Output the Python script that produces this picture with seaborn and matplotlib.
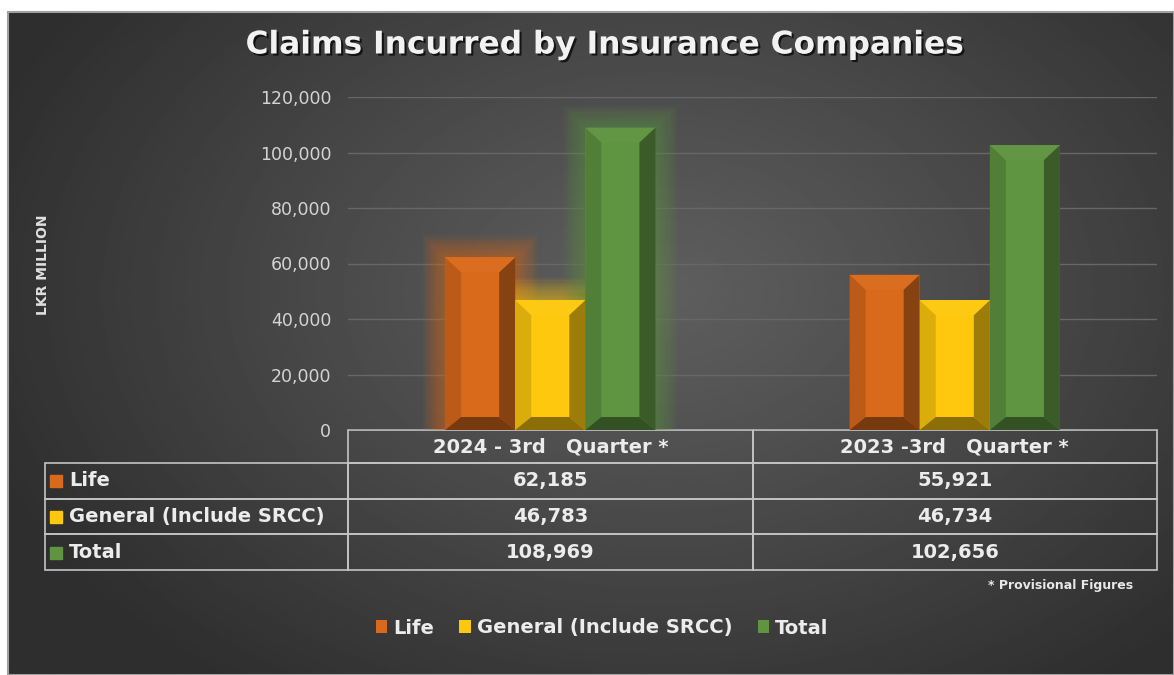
import matplotlib.pyplot as plt
import matplotlib.colors as mcolors
import matplotlib.patheffects as pe
import numpy as np
import pandas as pd
import seaborn as sns
from matplotlib.patches import Polygon, Rectangle
from matplotlib.table import Table

# data (LKR million)
periods = ['2024 - 3rd   Quarter *', '2023 -3rd   Quarter *']
series = ['Life', 'General (Include SRCC)', 'Total']
life = [62185, 55921]
general = [46783, 46734]
total = [108969, 102656]
y_ticks = [0, 20000, 40000, 60000, 80000, 100000, 120000]

COLORS = ['#d96a1b', '#fdc80e', '#5f9441']
TXT = '#ececec'

W, H = 1174, 675


def shade(color, f):
    rgb = np.array(mcolors.to_rgb(color))
    if f > 1:
        rgb = rgb + (1 - rgb) * (f - 1)
    else:
        rgb = rgb * f
    return tuple(np.clip(rgb, 0, 1))


def px_axes(x0, y0, x1, y1):
    # pixel box (top-left origin) -> figure fraction rect
    return [x0 / W, 1 - y1 / H, (x1 - x0) / W, (y1 - y0) / H]


df = pd.DataFrame({
    'period': periods * 3,
    'series': np.repeat(series, 2),
    'value': life + general + total,
})

fig = plt.figure(figsize=(W / 100, H / 100), dpi=100, facecolor='white')

# dark radial background, lighter behind the plot
bg = fig.add_axes(px_axes(8, 12, W, H))
yy, xx = np.mgrid[0:1:300j, 0:1:500j]
d = np.sqrt(((xx - 0.56) / 0.62) ** 2 + ((yy - 0.42) / 0.75) ** 2)
level = 0.37 - 0.19 * np.clip(d, 0, 1) ** 1.1
bg.imshow(level, cmap='gray', vmin=0, vmax=1, aspect='auto', extent=(0, 1, 1, 0))
bg.set_axis_off()
fig.add_artist(Rectangle((8 / W, 0), 1 - 8 / W, 1 - 12 / H, transform=fig.transFigure,
                         fill=False, edgecolor='#a0a0a0', lw=1.5))

ax = fig.add_axes(px_axes(348, 97, 1157, 430))
ax.set_facecolor('none')
sns.barplot(data=df, x='period', y='value', hue='series', hue_order=series,
            palette=COLORS, width=0.52, saturation=1, errorbar=None, ax=ax, zorder=3)

ax.set_ylim(0, 120000)
ax.set_yticks(y_ticks)
ax.yaxis.set_major_formatter('{x:,.0f}')
ax.yaxis.grid(True, color='#676767', lw=1)
ax.set_axisbelow(True)
for s in ax.spines.values():
    s.set_visible(False)
ax.tick_params(axis='y', length=0, pad=12, labelsize=12.5, labelcolor='#d4d4d4')
ax.tick_params(axis='x', length=0, labelbottom=False)
ax.set_xlabel('')
ax.set_ylabel('LKR MILLION', fontsize=10, fontweight='bold', color='#e0e0e0')
ax.yaxis.set_label_coords((50 - 348) / 809, 0.495)

# bevel and glow on the seaborn bars
xlim = ax.get_xlim()
xpp = (xlim[1] - xlim[0]) / 809
ypp = 120000 / 333
for k, cont in enumerate(ax.containers):
    base = COLORS[k]
    for j, bar in enumerate(cont):
        x0, y0 = bar.get_x(), bar.get_y()
        x1, y1 = x0 + bar.get_width(), y0 + bar.get_height()
        if j == 0:
            for g in range(1, 11):
                ax.add_patch(Rectangle((x0 - g * 2.2 * xpp, y0), (x1 - x0) + g * 4.4 * xpp,
                                       (y1 - y0) + g * 2.2 * ypp, color=base, alpha=0.07,
                                       lw=0, zorder=2))
        dx, dy, db = 16 * xpp, 15 * ypp, 13 * ypp
        pieces = [
            ([(x0, y1), (x1, y1), (x1 - dx, y1 - dy), (x0 + dx, y1 - dy)], 1.02),
            ([(x0, y0), (x0 + dx, y0 + db), (x0 + dx, y1 - dy), (x0, y1)], 0.86),
            ([(x1, y0), (x1, y1), (x1 - dx, y1 - dy), (x1 - dx, y0 + db)], 0.62),
            ([(x0, y0), (x1, y0), (x1 - dx, y0 + db), (x0 + dx, y0 + db)], 0.55),
        ]
        for pts, f in pieces:
            ax.add_patch(Polygon(pts, closed=True, facecolor=shade(base, f), lw=0, zorder=4))

# data table under the bars
tbl = Table(ax, bbox=[-303 / 809, -140 / 333, 1 + 303 / 809, 140 / 333])
edge = '#c4c4c4'
hh, rh = 33 / 333, 35.5 / 333
for c, p in enumerate(periods):
    tbl.add_cell(0, c + 1, width=0.5, height=hh, text=p, loc='center',
                 facecolor='none', edgecolor=edge)
for r, (name, vals) in enumerate(zip(series, [life, general, total])):
    cell = tbl.add_cell(r + 1, 0, width=303 / 809, height=rh, text=name, loc='left',
                        facecolor='none', edgecolor=edge)
    cell.PAD = 0.08
    for c, v in enumerate(vals):
        tbl.add_cell(r + 1, c + 1, width=0.5, height=rh, text=f'{v:,}', loc='center',
                     facecolor='none', edgecolor=edge)
tbl.auto_set_font_size(False)
tbl.set_fontsize(14)
for cell in tbl.get_celld().values():
    cell.get_text().set(color=TXT, fontweight='bold')
    cell.set_linewidth(1.2)
ax.add_table(tbl)

# colour keys inside the table row labels
for k, yc in enumerate([481, 517, 553]):
    fig.add_artist(Rectangle((50 / W, 1 - (yc + 6) / H), 12 / W, 12 / H,
                             transform=fig.transFigure, color=COLORS[k]))

sns.move_legend(ax, 'center', bbox_to_anchor=((602 - 348) / 809, (430 - 628) / 333),
                ncol=3, frameon=False, title=None, fontsize=14, handlelength=0.6,
                handleheight=0.6, handletextpad=0.3, columnspacing=1.3)
for t in ax.get_legend().get_texts():
    t.set(color=TXT, fontweight='bold')

fig.text(1133 / W, 1 - 586 / H, '* Provisional Figures', ha='right', va='center',
         fontsize=9, color='#e8e8e8', fontweight='bold')

fig.text(605 / W, 1 - 45 / H, 'Claims Incurred by Insurance Companies', ha='center',
         va='center', fontsize=22.5, fontweight='bold', color='#f2f2f2',
         path_effects=[pe.withSimplePatchShadow(offset=(1.5, -1.5), shadow_rgbFace='black',
                                                alpha=0.7)])

fig.savefig('out.png', dpi=100, facecolor=fig.get_facecolor())
